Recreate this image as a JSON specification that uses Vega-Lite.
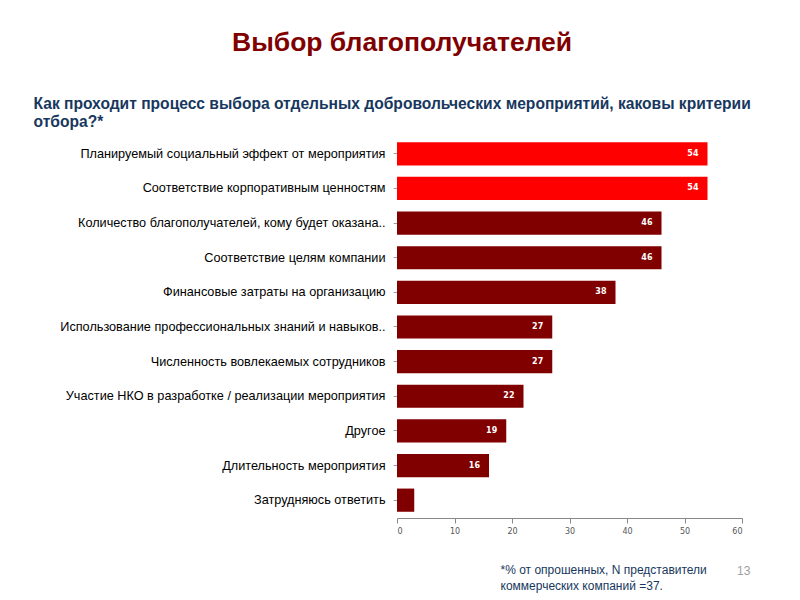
{
  "$schema": "https://vega.github.io/schema/vega-lite/v6.json",
  "autosize": "none",
  "width": 345,
  "height": 382,
  "padding": {"left": 397, "top": 136, "right": 58, "bottom": 82},
  "background": "white",
  "title": {
    "text": "Выбор благополучателей",
    "anchor": "start",
    "frame": "group",
    "dx": -165,
    "offset": 40,
    "font": "Liberation Sans",
    "fontSize": 26.5,
    "fontWeight": "bold",
    "color": "#800000"
  },
  "data": {
    "values": [
      {"label": "Планируемый социальный эффект от мероприятия", "value": 54, "group": "top"},
      {"label": "Соответствие корпоративным ценностям", "value": 54, "group": "top"},
      {"label": "Количество благополучателей, кому будет оказана..", "value": 46, "group": "other"},
      {"label": "Соответствие целям компании", "value": 46, "group": "other"},
      {"label": "Финансовые затраты на организацию", "value": 38, "group": "other"},
      {"label": "Использование профессиональных знаний и навыков..", "value": 27, "group": "other"},
      {"label": "Численность вовлекаемых сотрудников", "value": 27, "group": "other"},
      {"label": "Участие НКО в разработке / реализации мероприятия", "value": 22, "group": "other"},
      {"label": "Другое", "value": 19, "group": "other"},
      {"label": "Длительность мероприятия", "value": 16, "group": "other"},
      {"label": "Затрудняюсь ответить", "value": 3, "group": "other"}
    ]
  },
  "encoding": {
    "y": {
      "field": "label",
      "type": "nominal",
      "sort": null,
      "scale": {"paddingInner": 0.33, "paddingOuter": 0.18},
      "axis": {
        "title": ["Как проходит процесс выбора отдельных добровольческих мероприятий, каковы критерии", "отбора?*"],
        "titleAngle": 0,
        "titleAlign": "left",
        "titleBaseline": "alphabetic",
        "titleX": -364,
        "titleY": -28,
        "titleFont": "Liberation Sans",
        "titleFontSize": 15.6,
        "titleFontWeight": "bold",
        "titleColor": "#17375E",
        "titleLineHeight": 18,
        "domain": false,
        "ticks": true,
        "tickSize": 4,
        "tickColor": "#9AA0AA",
        "labelFont": "Liberation Sans",
        "labelFontSize": 12.7,
        "labelColor": "#000000",
        "labelPadding": 8,
        "labelLimit": 400
      }
    },
    "x": {
      "field": "value",
      "type": "quantitative",
      "scale": {"domain": [0, 60], "nice": false},
      "axis": {
        "values": [0, 10, 20, 30, 40, 50, 60],
        "grid": false,
        "domainColor": "#888888",
        "tickColor": "#888888",
        "tickSize": 5,
        "labelFont": "DejaVu Sans",
        "labelFontSize": 8,
        "labelColor": "#555555",
        "labelPadding": 4,
        "title": ["*% от опрошенных, N представители", "коммерческих компаний =37."],
        "titleAlign": "left",
        "titleAnchor": "start",
        "titleX": 103,
        "titleY": 55,
        "titleBaseline": "alphabetic",
        "titleFont": "Liberation Sans",
        "titleFontSize": 12,
        "titleFontWeight": "normal",
        "titleColor": "#17375E",
        "titleLineHeight": 16
      }
    }
  },
  "layer": [
    {
      "mark": {"type": "bar"},
      "encoding": {
        "color": {
          "field": "group",
          "type": "nominal",
          "scale": {"domain": ["top", "other"], "range": ["#FF0000", "#800000"]},
          "legend": {
            "orient": "none",
            "legendX": 340,
            "legendY": 430,
            "title": "13",
            "titleFont": "Liberation Sans",
            "titleFontSize": 12,
            "titleFontWeight": "normal",
            "titleColor": "#A0A0A0",
            "labelExpr": "''",
            "symbolOpacity": 0,
            "symbolStrokeWidth": 0,
            "symbolSize": 0
          }
        }
      }
    },
    {
      "transform": [{"filter": "datum.value >= 10"}],
      "mark": {"type": "text", "align": "right", "dx": -9, "font": "DejaVu Sans", "fontSize": 8, "fontWeight": "bold", "color": "white"},
      "encoding": {"text": {"field": "value", "type": "quantitative"}}
    }
  ],
  "config": {"view": {"stroke": null}}
}
